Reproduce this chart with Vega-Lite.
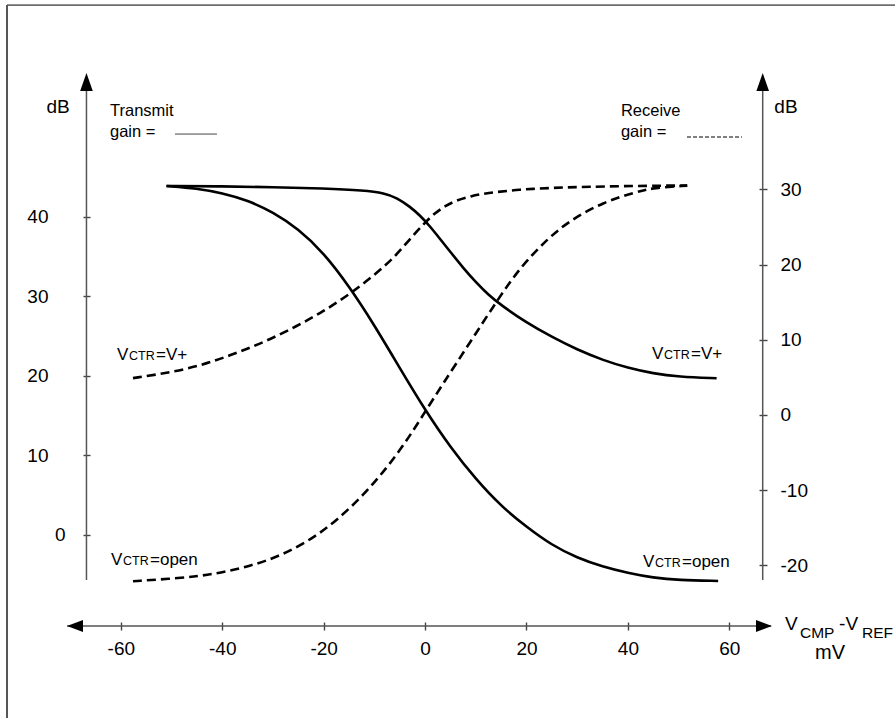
{
  "$schema": "https://vega.github.io/schema/vega-lite/v6.json",
  "width": 720,
  "height": 604,
  "autosize": "none",
  "padding": {"left": 60, "top": 58, "right": 115, "bottom": 56},
  "background": "white",
  "config": {
    "view": {"stroke": null},
    "font": "Liberation Sans",
    "axis": {"domain": false, "grid": false, "tickColor": "#444", "tickWidth": 1.4, "labelColor": "#000", "labelFontSize": 19, "labelFont": "Liberation Sans", "labelExpr": "'' + datum.value"},
    "text": {"font": "Liberation Sans", "color": "#000"}
  },
  "datasets": {
    "transmit": [
      {"ctr": "V+", "x": -51, "y": 43.9}, {"ctr": "V+", "x": -40, "y": 43.85}, {"ctr": "V+", "x": -30, "y": 43.75},
      {"ctr": "V+", "x": -20, "y": 43.6}, {"ctr": "V+", "x": -12, "y": 43.35}, {"ctr": "V+", "x": -8, "y": 43.0},
      {"ctr": "V+", "x": -5.5, "y": 42.4}, {"ctr": "V+", "x": -3, "y": 41.3}, {"ctr": "V+", "x": -1, "y": 40.2},
      {"ctr": "V+", "x": 1, "y": 38.8}, {"ctr": "V+", "x": 3, "y": 37.2}, {"ctr": "V+", "x": 5, "y": 35.6},
      {"ctr": "V+", "x": 7.5, "y": 33.6}, {"ctr": "V+", "x": 10, "y": 31.8}, {"ctr": "V+", "x": 12.5, "y": 30.2},
      {"ctr": "V+", "x": 15, "y": 28.9}, {"ctr": "V+", "x": 20, "y": 26.7}, {"ctr": "V+", "x": 25, "y": 24.9},
      {"ctr": "V+", "x": 30, "y": 23.3}, {"ctr": "V+", "x": 35, "y": 22.0}, {"ctr": "V+", "x": 40, "y": 21.0},
      {"ctr": "V+", "x": 45, "y": 20.3}, {"ctr": "V+", "x": 50, "y": 19.9}, {"ctr": "V+", "x": 57.5, "y": 19.7},
      {"ctr": "open", "x": -51, "y": 43.9}, {"ctr": "open", "x": -45, "y": 43.6}, {"ctr": "open", "x": -40, "y": 43.0},
      {"ctr": "open", "x": -35, "y": 42.1}, {"ctr": "open", "x": -30, "y": 40.6}, {"ctr": "open", "x": -25, "y": 38.5},
      {"ctr": "open", "x": -20, "y": 35.5}, {"ctr": "open", "x": -15, "y": 31.3}, {"ctr": "open", "x": -10, "y": 26.4},
      {"ctr": "open", "x": -5, "y": 21.0}, {"ctr": "open", "x": 0, "y": 15.7}, {"ctr": "open", "x": 5, "y": 11.0},
      {"ctr": "open", "x": 10, "y": 7.0}, {"ctr": "open", "x": 15, "y": 3.6}, {"ctr": "open", "x": 20, "y": 1.0},
      {"ctr": "open", "x": 25, "y": -1.3}, {"ctr": "open", "x": 30, "y": -2.9}, {"ctr": "open", "x": 35, "y": -4.0},
      {"ctr": "open", "x": 40, "y": -4.8}, {"ctr": "open", "x": 45, "y": -5.4}, {"ctr": "open", "x": 50, "y": -5.7},
      {"ctr": "open", "x": 57.8, "y": -5.8}
    ],
    "receive": [
      {"ctr": "V+", "x": -57.6, "y": 4.9}, {"ctr": "V+", "x": -51.7, "y": 5.5}, {"ctr": "V+", "x": -45, "y": 6.4},
      {"ctr": "V+", "x": -38.5, "y": 7.9}, {"ctr": "V+", "x": -32, "y": 9.6}, {"ctr": "V+", "x": -25.3, "y": 11.8},
      {"ctr": "V+", "x": -20, "y": 13.8}, {"ctr": "V+", "x": -15, "y": 16.0}, {"ctr": "V+", "x": -10, "y": 18.6},
      {"ctr": "V+", "x": -6, "y": 21.0}, {"ctr": "V+", "x": -3, "y": 23.4}, {"ctr": "V+", "x": 0, "y": 25.6},
      {"ctr": "V+", "x": 2, "y": 26.9}, {"ctr": "V+", "x": 4, "y": 27.8}, {"ctr": "V+", "x": 6, "y": 28.5},
      {"ctr": "V+", "x": 9, "y": 29.1}, {"ctr": "V+", "x": 12, "y": 29.5}, {"ctr": "V+", "x": 18.7, "y": 30.0},
      {"ctr": "V+", "x": 25, "y": 30.2}, {"ctr": "V+", "x": 31.9, "y": 30.35}, {"ctr": "V+", "x": 45, "y": 30.5},
      {"ctr": "V+", "x": 51.7, "y": 30.5},
      {"ctr": "open", "x": -57.6, "y": -22.1}, {"ctr": "open", "x": -48.3, "y": -21.7}, {"ctr": "open", "x": -41.8, "y": -21.2},
      {"ctr": "open", "x": -35.1, "y": -20.2}, {"ctr": "open", "x": -28.6, "y": -18.8}, {"ctr": "open", "x": -22.1, "y": -16.4},
      {"ctr": "open", "x": -17.4, "y": -14.0}, {"ctr": "open", "x": -12.2, "y": -10.7}, {"ctr": "open", "x": -7.5, "y": -7.0},
      {"ctr": "open", "x": -3.6, "y": -3.4}, {"ctr": "open", "x": -0.4, "y": 0.0}, {"ctr": "open", "x": 3.3, "y": 3.9},
      {"ctr": "open", "x": 8.9, "y": 9.7}, {"ctr": "open", "x": 14.2, "y": 15.2}, {"ctr": "open", "x": 18.7, "y": 19.6},
      {"ctr": "open", "x": 24.1, "y": 23.4}, {"ctr": "open", "x": 28.6, "y": 25.9}, {"ctr": "open", "x": 35.1, "y": 28.3},
      {"ctr": "open", "x": 41.8, "y": 29.7}, {"ctr": "open", "x": 45, "y": 30.2}, {"ctr": "open", "x": 51.7, "y": 30.5}
    ],
    "segs": [
      {"role": "axis", "x": -66.78, "y": -5.69, "x2": -66.78, "y2": 56.5},
      {"role": "axis", "x": 66.59, "y": -5.69, "x2": 66.59, "y2": 56.5},
      {"role": "axis", "x": -70.6, "y": -11.48, "x2": 68.2, "y2": -11.48},
      {"role": "frameTop", "x": -82.45, "y": 66.66, "x2": 95, "y2": 66.66},
      {"role": "frameLeft", "x": -82.45, "y": 66.66, "x2": -82.45, "y2": -24},
      {"role": "solidKey", "x": -49.32, "y": 50.43, "x2": -41.04, "y2": 50.43},
      {"role": "dashKey", "x": 51.66, "y": 50.06, "x2": 62.49, "y2": 50.06}
    ],
    "arrows": [
      {"dir": "up", "x": -66.78, "y": 56.97},
      {"dir": "up", "x": 66.59, "y": 56.97},
      {"dir": "left", "x": -69.04, "y": -11.48},
      {"dir": "right", "x": 66.84, "y": -11.48}
    ],
    "notes": [
      {"x": -62.14, "y": 52.7, "text": "Transmit"},
      {"x": -62.14, "y": 50.06, "text": "gain ="},
      {"x": 38.62, "y": 52.7, "text": "Receive"},
      {"x": 38.62, "y": 50.06, "text": "gain ="}
    ],
    "units": [
      {"x": -72.39, "y": 53.07, "text": "dB"},
      {"x": 71.18, "y": 53.07, "text": "dB"}
    ],
    "ctrlabels": [
      {"x": -60.76, "y": 22.0, "tail": "=V+"},
      {"x": -61.94, "y": -3.8, "tail": "=open"},
      {"x": 44.76, "y": 22.12, "tail": "=V+"},
      {"x": 42.98, "y": -4.05, "tail": "=open"}
    ],
    "xtitle": [
      {"x": 70.98, "y": -11.98, "text": "V"},
      {"x": 81.65, "y": -11.98, "text": "-V"}
    ],
    "xtitlesub": [
      {"x": 73.94, "y": -12.98, "text": "CMP"},
      {"x": 86.17, "y": -12.98, "text": "REF"}
    ],
    "xunit": [
      {"x": 79.86, "y": -15.6, "text": "mV"}
    ]
  },
  "encoding": {
    "x": {
      "field": "x", "type": "quantitative", "title": null,
      "scale": {"domain": [-72, 70], "nice": false, "zero": false},
      "axis": {"orient": "bottom", "offset": -40, "values": [-60, -40, -20, 0, 20, 40, 60], "tickSize": 8, "labelPadding": 9, "labelFlush": false, "labelOverlap": false}
    }
  },
  "resolve": {"scale": {"y": "independent"}},
  "layer": [
    {
      "encoding": {
        "y": {
          "field": "y", "type": "quantitative", "title": null,
          "scale": {"domain": [-16, 60], "nice": false, "zero": false},
          "axis": {"orient": "left", "offset": -30, "values": [0, 10, 20, 30, 40], "tickSize": 7, "labelPadding": {"condition": {"test": "datum.value === 0", "value": 18}, "value": 35}}
        }
      },
      "layer": [
        {
          "data": {"name": "transmit"},
          "mark": {"type": "line", "color": "#000", "strokeWidth": 2.6, "interpolate": "basis"},
          "encoding": {"detail": {"field": "ctr"}}
        },
        {
          "data": {"name": "segs"},
          "transform": [{"filter": "datum.role === 'axis'"}],
          "mark": {"type": "rule", "color": "#555", "strokeWidth": 1.5},
          "encoding": {"x2": {"field": "x2"}, "y2": {"field": "y2"}}
        },
        {
          "data": {"name": "segs"},
          "transform": [{"filter": "datum.role === 'frameTop'"}],
          "mark": {"type": "rule", "color": "#000", "strokeWidth": 1},
          "encoding": {"x2": {"field": "x2"}, "y2": {"field": "y2"}}
        },
        {
          "data": {"name": "segs"},
          "transform": [{"filter": "datum.role === 'frameLeft'"}],
          "mark": {"type": "rule", "color": "#555", "strokeWidth": 2},
          "encoding": {"x2": {"field": "x2"}, "y2": {"field": "y2"}}
        },
        {
          "data": {"name": "segs"},
          "transform": [{"filter": "datum.role === 'solidKey'"}],
          "mark": {"type": "rule", "color": "#444", "strokeWidth": 1},
          "encoding": {"x2": {"field": "x2"}, "y2": {"field": "y2"}}
        },
        {
          "data": {"name": "segs"},
          "transform": [{"filter": "datum.role === 'dashKey'"}],
          "mark": {"type": "rule", "color": "#000", "strokeWidth": 1.2, "strokeDash": [4, 2]},
          "encoding": {"x2": {"field": "x2"}, "y2": {"field": "y2"}}
        },
        {
          "data": {"name": "arrows"},
          "transform": [{"filter": "datum.dir === 'up'"}],
          "mark": {"type": "point", "shape": "M0,-1L-0.7,1L0.7,1Z", "size": 324, "filled": true, "color": "#000", "opacity": 1, "strokeWidth": 0}
        },
        {
          "data": {"name": "arrows"},
          "transform": [{"filter": "datum.dir === 'left'"}],
          "mark": {"type": "point", "shape": "M-1,0L1,-0.75L1,0.75Z", "size": 256, "filled": true, "color": "#000", "opacity": 1, "strokeWidth": 0}
        },
        {
          "data": {"name": "arrows"},
          "transform": [{"filter": "datum.dir === 'right'"}],
          "mark": {"type": "point", "shape": "M1,0L-1,-0.75L-1,0.75Z", "size": 256, "filled": true, "color": "#000", "opacity": 1, "strokeWidth": 0}
        },
        {
          "data": {"name": "notes"},
          "mark": {"type": "text", "align": "left", "baseline": "alphabetic", "fontSize": 16.5, "color": "#000"},
          "encoding": {"text": {"field": "text"}}
        },
        {
          "data": {"name": "units"},
          "mark": {"type": "text", "align": "center", "baseline": "alphabetic", "fontSize": 19, "color": "#000"},
          "encoding": {"text": {"field": "text"}}
        },
        {
          "data": {"name": "ctrlabels"},
          "mark": {"type": "text", "align": "left", "baseline": "alphabetic", "fontSize": 17, "color": "#000", "text": "V"}
        },
        {
          "data": {"name": "ctrlabels"},
          "mark": {"type": "text", "align": "left", "baseline": "alphabetic", "fontSize": 12.5, "color": "#000", "text": "CTR", "dx": 12}
        },
        {
          "data": {"name": "ctrlabels"},
          "mark": {"type": "text", "align": "left", "baseline": "alphabetic", "fontSize": 17, "color": "#000", "dx": 39},
          "encoding": {"text": {"field": "tail"}}
        },
        {
          "data": {"name": "xtitle"},
          "mark": {"type": "text", "align": "left", "baseline": "alphabetic", "fontSize": 19, "color": "#000"},
          "encoding": {"text": {"field": "text"}}
        },
        {
          "data": {"name": "xtitlesub"},
          "mark": {"type": "text", "align": "left", "baseline": "alphabetic", "fontSize": 15.5, "color": "#000"},
          "encoding": {"text": {"field": "text"}}
        },
        {
          "data": {"name": "xunit"},
          "mark": {"type": "text", "align": "center", "baseline": "alphabetic", "fontSize": 20, "color": "#000"},
          "encoding": {"text": {"field": "text"}}
        }
      ]
    },
    {
      "data": {"name": "receive"},
      "mark": {"type": "line", "color": "#000", "strokeWidth": 2.6, "strokeDash": [9, 5], "interpolate": "basis"},
      "encoding": {
        "detail": {"field": "ctr"},
        "y": {
          "field": "y", "type": "quantitative", "title": null,
          "scale": {"domain": [-32.846, 47.473], "nice": false, "zero": false},
          "axis": {"orient": "right", "offset": -21, "values": [-20, -10, 0, 10, 20, 30], "tickSize": 8, "labelPadding": 13}
        }
      }
    }
  ]
}
